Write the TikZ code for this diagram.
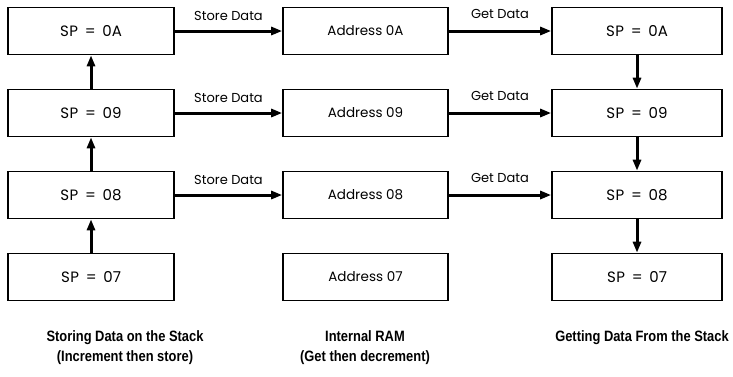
\documentclass[tikz,border=0pt]{standalone}
\usepackage{fontspec}
\setmainfont{Poppins}
\newfontfamily\capfont[FakeStretch=0.86]{Liberation Sans}
\usepackage{tikz}
\usetikzlibrary{arrows.meta}

\newcommand{\spval}[1]{S\kern0.5pt P\hspace{0.45em}=\hspace{0.45em}#1}

\begin{document}
\begin{tikzpicture}[x=1pt, y=-1pt,
		box/.style={draw, line width=1.6pt, minimum height=47pt, inner sep=0pt, font=\fontsize{13.5}{16}\selectfont},
		spbox/.style={box, font=\fontsize{15}{18}\selectfont},
		flow/.style={line width=3pt, -{Triangle[length=11pt, width=8pt]}},
		lbl/.style={font=\fontsize{13}{16}\selectfont, inner sep=0pt},
		capnote/.style={font=\capfont\bfseries\fontsize{15}{20.5}\selectfont, align=center, anchor=north, inner sep=0pt}]
			\useasboundingbox (0, 0) rectangle (733, 376);
			\foreach \n/\y/\val in {1/31/0A, 2/113/09, 3/195/08, 4/277/07}
			{
				\node[spbox, minimum width=166pt] (st\n) at (91, \y) {\spval{\val}};
				\node[box, minimum width=165pt] (ram\n) at (365.5, \y) {Address \val};
				\node[spbox, minimum width=170pt] (gt\n) at (637, \y) {\spval{\val}};
			}
			% stack pointer goes up, then down
			\foreach \a/\b in {4/3, 3/2, 2/1}
				\draw[flow] (st\a) -- (st\b);
			\foreach \a/\b in {1/2, 2/3, 3/4}
				\draw[flow] (gt\a) -- (gt\b);
			\foreach \n in {1, 2, 3}
			{
				\draw[flow] (st\n) -- node[lbl, above=9pt] {Store Data} (ram\n);
				\draw[flow] (ram\n) -- node[lbl, above=11pt] {Get Data} (gt\n);
			}
			\node[capnote] (capst) at (125, 330) {Storing Data on the Stack\\(Increment then store)};
			\node[capnote] (capram) at (365, 330) {Internal RAM\\(Get then decrement)};
			\node[capnote] (capgt) at (642, 330) {Getting Data From the Stack};
		\end{tikzpicture}
\end{document}
